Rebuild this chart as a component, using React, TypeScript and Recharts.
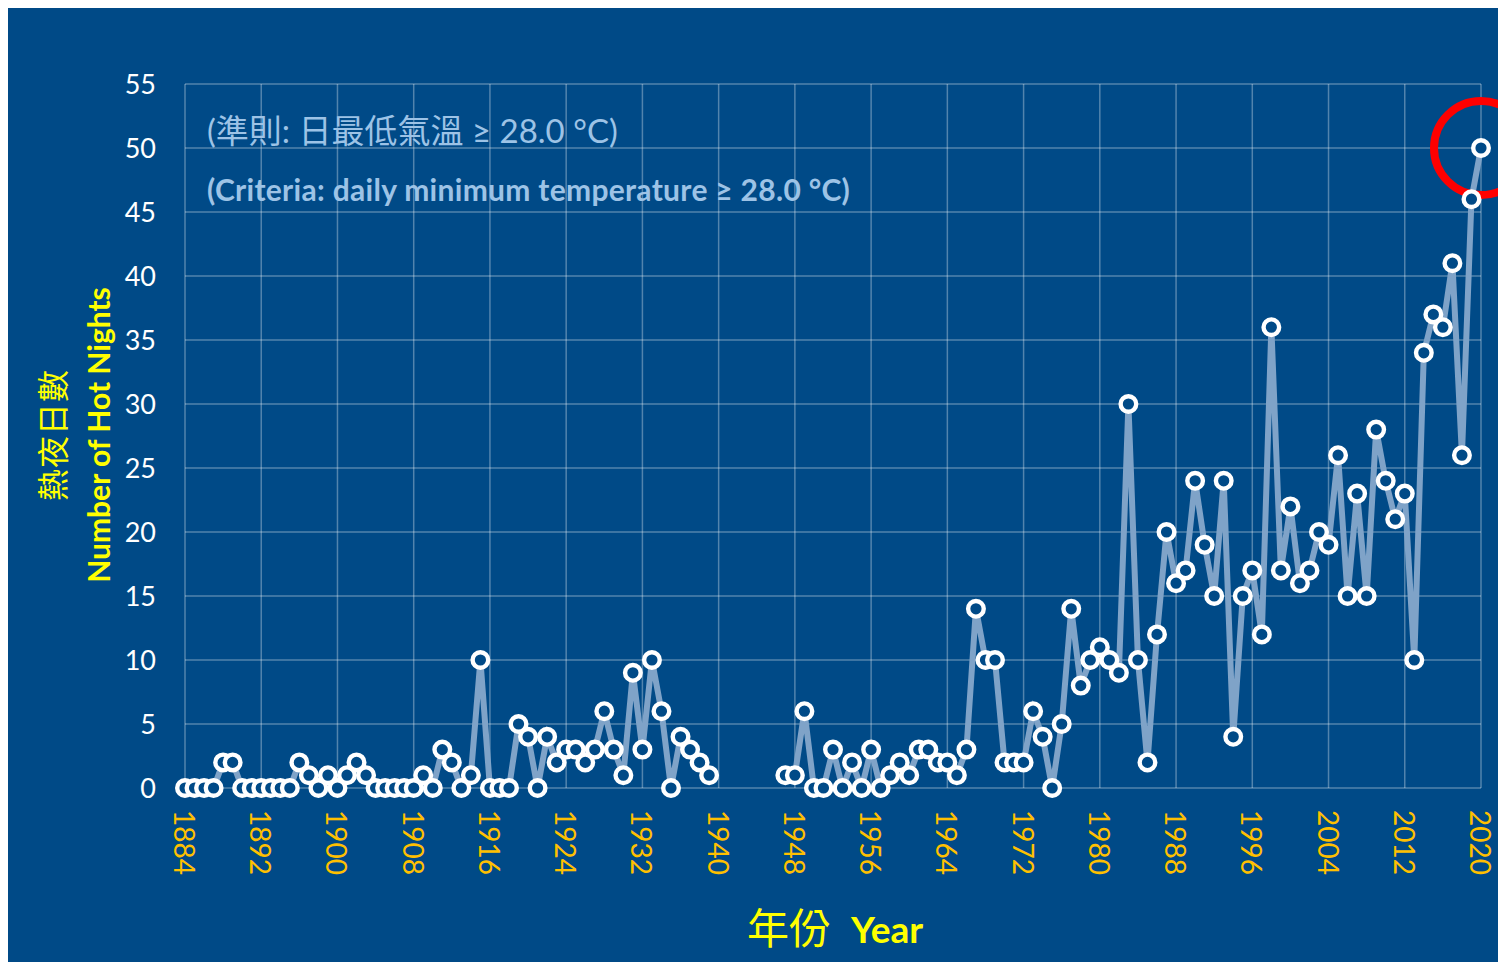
import React from 'react';
import { LineChart, Line, XAxis, YAxis, CartesianGrid, ReferenceDot } from 'recharts';

// Categories: years 1884–2020 (no records 1940–1946)
const firstYear = 1884;
const lastYear = 2020;
const years: number[] = Array.from({ length: lastYear - firstYear + 1 }, (_, i) => firstYear + i);

// Number of hot nights, 1884–1939
const hotNightsPreWar: number[] = [
  0, 0, 0, 0, 2, 2, 0, 0, 0, 0, 0, 0, 2, 1, 0, 1, 0, 1, 2, 1,
  0, 0, 0, 0, 0, 1, 0, 3, 2, 0, 1, 10, 0, 0, 0, 5, 4, 0, 4, 2,
  3, 3, 2, 3, 6, 3, 1, 9, 3, 10, 6, 0, 4, 3, 2, 1,
];
// 1940–1946: no data
const hotNightsGap: (number | null)[] = [null, null, null, null, null, null, null];
// 1947–2020
const hotNightsPostWar: number[] = [
  1, 1, 6, 0, 0, 3, 0, 2, 0, 3, 0, 1, 2, 1, 3, 3, 2, 2, 1, 3,
  14, 10, 10, 2, 2, 2, 6, 4, 0, 5, 14, 8, 10, 11, 10, 9, 30, 10, 2, 12,
  20, 16, 17, 24, 19, 15, 24, 4, 15, 17, 12, 36, 17, 22, 16, 17, 20, 19, 26, 15,
  23, 15, 28, 24, 21, 23, 10, 34, 37, 36, 41, 26, 46, 50,
];
const hotNights: (number | null)[] = [...hotNightsPreWar, ...hotNightsGap, ...hotNightsPostWar];

const xTicks: number[] = [1884, 1892, 1900, 1908, 1916, 1924, 1932, 1940, 1948, 1956, 1964, 1972, 1980, 1988, 1996, 2004, 2012, 2020];
const yTicks: number[] = [0, 5, 10, 15, 20, 25, 30, 35, 40, 45, 50, 55];

const highlightYear = 2020;
const highlightValue = 50;

const titleZh = '(準則: 日最低氣溫 ≥ 28.0 °C)';
const titleEn = '(Criteria: daily minimum temperature ≥ 28.0 °C)';
const yLabelZh = '熱夜日數';
const yLabelEn = 'Number of Hot Nights';
const xLabelZh = '年份';
const xLabelEn = 'Year';

const data = years.map((y, i) => ({ year: y, value: hotNights[i] }));

const BG = '#004A87';
const FONT = "Lato, 'Noto Sans CJK TC', 'Noto Sans', sans-serif";
const W = 1498;
const H = 954;

const XTick = (props: any) => {
  const { x, y, payload } = props;
  return (
    <text
      transform={`translate(${x},${y + 20}) rotate(90)`}
      textAnchor="start"
      dominantBaseline="central"
      fill="#FFC000"
      fontSize={28}
      fontFamily={FONT}
    >
      {payload.value}
    </text>
  );
};

export default function App() {
  return (
    <div style={{ position: 'relative', width: W, height: H, background: BG, fontFamily: FONT }}>
      <style>{`html,body{overflow:hidden;}`}</style>
      <LineChart
        width={W}
        height={H}
        data={data}
        margin={{ top: 76, right: 25, bottom: 0, left: 0 }}
      >
        <CartesianGrid stroke="rgba(255,255,255,0.32)" strokeWidth={1.5} />
        <XAxis
          dataKey="year"
          type="number"
          domain={[firstYear, lastYear]}
          ticks={xTicks}
          interval={0}
          tick={<XTick />}
          tickLine={false}
          axisLine={false}
          tickSize={0}
          height={174}
        />
        <YAxis
          domain={[0, 55]}
          ticks={yTicks}
          interval={0}
          width={177}
          tickLine={false}
          axisLine={false}
          tickSize={0}
          tickMargin={29}
          tick={{ fill: '#FFFFFF', fontSize: 27, fontFamily: FONT }}
        />
        <ReferenceDot
          x={highlightYear}
          y={highlightValue}
          r={47}
          fill="none"
          stroke="#FF0000"
          strokeWidth={8}
          ifOverflow="visible"
        />
        <Line
          type="linear"
          dataKey="value"
          stroke="#7FA3C8"
          strokeWidth={6}
          connectNulls={false}
          dot={{ r: 7.8, stroke: '#FFFFFF', strokeWidth: 4.4, fill: BG }}
          activeDot={false}
          isAnimationActive={false}
        />
      </LineChart>
      <svg
        width={W}
        height={H}
        style={{ position: 'absolute', left: 0, top: 0, pointerEvents: 'none' }}
      >
        <text x={199} y={122} dominantBaseline="central" fill="#9DC3E6" fontSize={33} fontFamily={FONT}>
          {titleZh}
        </text>
        <text x={199} y={181} dominantBaseline="central" fill="#9DC3E6" fontSize={30} fontWeight="bold" fontFamily={FONT} letterSpacing={0.3}>
          {titleEn}
        </text>
        <text
          transform="translate(44,427) rotate(-90)"
          textAnchor="middle"
          dominantBaseline="central"
          fill="#FFFF00"
          fontSize={32}
          fontFamily={FONT}
          letterSpacing={1}
        >
          {yLabelZh}
        </text>
        <text
          transform="translate(90,427) rotate(-90)"
          textAnchor="middle"
          dominantBaseline="central"
          fill="#FFFF00"
          fontSize={30}
          fontWeight="bold"
          fontFamily={FONT}
        >
          {yLabelEn}
        </text>
        <text x={827} y={920} textAnchor="middle" dominantBaseline="central" fill="#FFFF00" fontFamily={FONT}>
          <tspan fontSize={42}>{xLabelZh}</tspan>
          <tspan fontSize={37} fontWeight="bold" dx={20}>{xLabelEn}</tspan>
        </text>
      </svg>
    </div>
  );
}
